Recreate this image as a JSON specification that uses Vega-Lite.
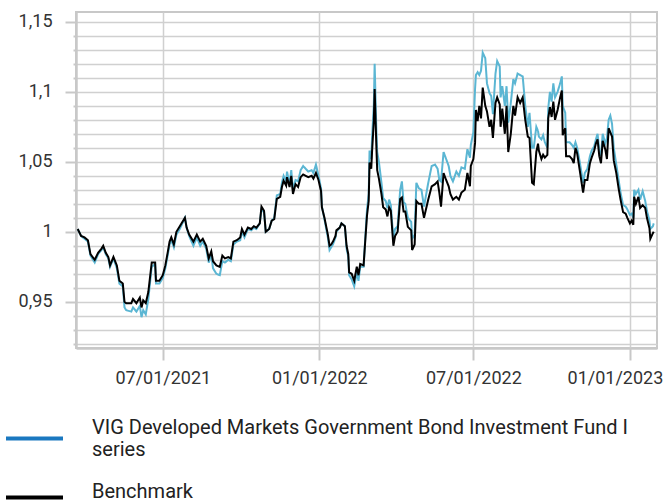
{
  "$schema": "https://vega.github.io/schema/vega-lite/v6.json",
  "width": 581,
  "height": 336,
  "autosize": {"type": "none"},
  "padding": {"left": 76, "top": 12, "right": 7, "bottom": 152},
  "background": "white",
  "config": {
    "font": "Roboto",
    "view": {"stroke": "#c8c8c8", "strokeWidth": 2}
  },
  "data": {
    "values": [
      {"date": "2021-03-23", "bench": 1.002, "fund": 1.002},
      {"date": "2021-03-27", "bench": 0.997, "fund": 0.997},
      {"date": "2021-03-31", "bench": 0.996, "fund": 0.995},
      {"date": "2021-04-04", "bench": 0.994, "fund": 0.993},
      {"date": "2021-04-07", "bench": 0.984, "fund": 0.983},
      {"date": "2021-04-12", "bench": 0.980, "fund": 0.978},
      {"date": "2021-04-16", "bench": 0.985, "fund": 0.984},
      {"date": "2021-04-20", "bench": 0.988, "fund": 0.987},
      {"date": "2021-04-22", "bench": 0.990, "fund": 0.989},
      {"date": "2021-04-25", "bench": 0.985, "fund": 0.984},
      {"date": "2021-04-28", "bench": 0.982, "fund": 0.981},
      {"date": "2021-04-30", "bench": 0.976, "fund": 0.975},
      {"date": "2021-05-04", "bench": 0.982, "fund": 0.981},
      {"date": "2021-05-08", "bench": 0.976, "fund": 0.974},
      {"date": "2021-05-11", "bench": 0.965, "fund": 0.963},
      {"date": "2021-05-15", "bench": 0.963, "fund": 0.961},
      {"date": "2021-05-17", "bench": 0.950, "fund": 0.946},
      {"date": "2021-05-19", "bench": 0.949, "fund": 0.944},
      {"date": "2021-05-25", "bench": 0.949, "fund": 0.943},
      {"date": "2021-05-27", "bench": 0.952, "fund": 0.946},
      {"date": "2021-05-31", "bench": 0.949, "fund": 0.943},
      {"date": "2021-06-04", "bench": 0.953, "fund": 0.947},
      {"date": "2021-06-06", "bench": 0.946, "fund": 0.939},
      {"date": "2021-06-08", "bench": 0.951, "fund": 0.944},
      {"date": "2021-06-11", "bench": 0.949, "fund": 0.941},
      {"date": "2021-06-14", "bench": 0.957, "fund": 0.952},
      {"date": "2021-06-18", "bench": 0.978, "fund": 0.975},
      {"date": "2021-06-22", "bench": 0.978, "fund": 0.977},
      {"date": "2021-06-23", "bench": 0.965, "fund": 0.963},
      {"date": "2021-06-27", "bench": 0.965, "fund": 0.963},
      {"date": "2021-07-01", "bench": 0.969, "fund": 0.967},
      {"date": "2021-07-04", "bench": 0.976, "fund": 0.974},
      {"date": "2021-07-07", "bench": 0.986, "fund": 0.984},
      {"date": "2021-07-09", "bench": 0.993, "fund": 0.991},
      {"date": "2021-07-11", "bench": 0.996, "fund": 0.994},
      {"date": "2021-07-14", "bench": 0.991, "fund": 0.989},
      {"date": "2021-07-17", "bench": 1.000, "fund": 0.998},
      {"date": "2021-07-21", "bench": 1.004, "fund": 1.002},
      {"date": "2021-07-24", "bench": 1.007, "fund": 1.006},
      {"date": "2021-07-27", "bench": 1.010, "fund": 1.010},
      {"date": "2021-07-29", "bench": 1.003, "fund": 1.003},
      {"date": "2021-08-01", "bench": 0.998, "fund": 0.997},
      {"date": "2021-08-06", "bench": 0.993, "fund": 0.990},
      {"date": "2021-08-10", "bench": 0.998, "fund": 0.996},
      {"date": "2021-08-14", "bench": 0.993, "fund": 0.990},
      {"date": "2021-08-17", "bench": 0.995, "fund": 0.993},
      {"date": "2021-08-21", "bench": 0.990, "fund": 0.988},
      {"date": "2021-08-24", "bench": 0.981, "fund": 0.978},
      {"date": "2021-08-27", "bench": 0.986, "fund": 0.984},
      {"date": "2021-08-29", "bench": 0.979, "fund": 0.974},
      {"date": "2021-09-02", "bench": 0.976, "fund": 0.970},
      {"date": "2021-09-06", "bench": 0.975, "fund": 0.969},
      {"date": "2021-09-09", "bench": 0.983, "fund": 0.979},
      {"date": "2021-09-12", "bench": 0.981, "fund": 0.978},
      {"date": "2021-09-16", "bench": 0.982, "fund": 0.980},
      {"date": "2021-09-19", "bench": 0.981, "fund": 0.979},
      {"date": "2021-09-22", "bench": 0.993, "fund": 0.991},
      {"date": "2021-09-26", "bench": 0.994, "fund": 0.993},
      {"date": "2021-09-30", "bench": 0.996, "fund": 0.994},
      {"date": "2021-10-02", "bench": 1.002, "fund": 1.000},
      {"date": "2021-10-05", "bench": 0.998, "fund": 0.996},
      {"date": "2021-10-09", "bench": 1.003, "fund": 1.002},
      {"date": "2021-10-13", "bench": 1.002, "fund": 1.001},
      {"date": "2021-10-16", "bench": 1.004, "fund": 1.003},
      {"date": "2021-10-19", "bench": 1.003, "fund": 1.002},
      {"date": "2021-10-23", "bench": 1.006, "fund": 1.006},
      {"date": "2021-10-25", "bench": 1.018, "fund": 1.016},
      {"date": "2021-10-28", "bench": 1.015, "fund": 1.014},
      {"date": "2021-10-30", "bench": 1.000, "fund": 1.000},
      {"date": "2021-11-03", "bench": 1.002, "fund": 1.002},
      {"date": "2021-11-06", "bench": 1.008, "fund": 1.008},
      {"date": "2021-11-09", "bench": 1.009, "fund": 1.010},
      {"date": "2021-11-12", "bench": 1.0235, "fund": 1.026},
      {"date": "2021-11-16", "bench": 1.025, "fund": 1.027},
      {"date": "2021-11-18", "bench": 1.032, "fund": 1.035},
      {"date": "2021-11-20", "bench": 1.0365, "fund": 1.040},
      {"date": "2021-11-23", "bench": 1.033, "fund": 1.036},
      {"date": "2021-11-24", "bench": 1.039, "fund": 1.043},
      {"date": "2021-11-27", "bench": 1.032, "fund": 1.034},
      {"date": "2021-11-29", "bench": 1.040, "fund": 1.044},
      {"date": "2021-12-01", "bench": 1.027, "fund": 1.030},
      {"date": "2021-12-04", "bench": 1.034, "fund": 1.037},
      {"date": "2021-12-07", "bench": 1.032, "fund": 1.036},
      {"date": "2021-12-10", "bench": 1.039, "fund": 1.044},
      {"date": "2021-12-13", "bench": 1.041, "fund": 1.047},
      {"date": "2021-12-16", "bench": 1.040, "fund": 1.045},
      {"date": "2021-12-19", "bench": 1.039, "fund": 1.043},
      {"date": "2021-12-23", "bench": 1.040, "fund": 1.044},
      {"date": "2021-12-25", "bench": 1.038, "fund": 1.042},
      {"date": "2021-12-28", "bench": 1.042, "fund": 1.048},
      {"date": "2021-12-31", "bench": 1.037, "fund": 1.040},
      {"date": "2022-01-03", "bench": 1.029, "fund": 1.031},
      {"date": "2022-01-04", "bench": 1.0175, "fund": 1.018},
      {"date": "2022-01-07", "bench": 1.010, "fund": 1.009},
      {"date": "2022-01-10", "bench": 1.001, "fund": 0.999},
      {"date": "2022-01-11", "bench": 0.998, "fund": 0.996},
      {"date": "2022-01-13", "bench": 0.990, "fund": 0.987},
      {"date": "2022-01-15", "bench": 0.991, "fund": 0.989},
      {"date": "2022-01-17", "bench": 0.993, "fund": 0.991},
      {"date": "2022-01-20", "bench": 0.997, "fund": 0.996},
      {"date": "2022-01-21", "bench": 1.001, "fund": 1.000},
      {"date": "2022-01-25", "bench": 1.003, "fund": 1.003},
      {"date": "2022-01-27", "bench": 1.006, "fund": 1.006},
      {"date": "2022-01-31", "bench": 1.004, "fund": 1.004},
      {"date": "2022-02-02", "bench": 0.990, "fund": 0.988},
      {"date": "2022-02-04", "bench": 0.984, "fund": 0.982},
      {"date": "2022-02-05", "bench": 0.971, "fund": 0.969},
      {"date": "2022-02-08", "bench": 0.970, "fund": 0.966},
      {"date": "2022-02-11", "bench": 0.965, "fund": 0.961},
      {"date": "2022-02-14", "bench": 0.975, "fund": 0.971},
      {"date": "2022-02-16", "bench": 0.969, "fund": 0.965},
      {"date": "2022-02-18", "bench": 0.977, "fund": 0.975},
      {"date": "2022-02-22", "bench": 0.976, "fund": 0.975},
      {"date": "2022-02-24", "bench": 0.994, "fund": 0.996},
      {"date": "2022-02-26", "bench": 1.0115, "fund": 1.016},
      {"date": "2022-02-28", "bench": 1.022, "fund": 1.027},
      {"date": "2022-03-01", "bench": 1.0495, "fund": 1.058},
      {"date": "2022-03-03", "bench": 1.045, "fund": 1.052},
      {"date": "2022-03-04", "bench": 1.058, "fund": 1.068},
      {"date": "2022-03-06", "bench": 1.079, "fund": 1.090},
      {"date": "2022-03-07", "bench": 1.102, "fund": 1.120},
      {"date": "2022-03-09", "bench": 1.061, "fund": 1.073},
      {"date": "2022-03-10", "bench": 1.044, "fund": 1.057},
      {"date": "2022-03-12", "bench": 1.038, "fund": 1.050},
      {"date": "2022-03-15", "bench": 1.027, "fund": 1.035},
      {"date": "2022-03-17", "bench": 1.0175, "fund": 1.024},
      {"date": "2022-03-20", "bench": 1.016, "fund": 1.022},
      {"date": "2022-03-22", "bench": 1.011, "fund": 1.017},
      {"date": "2022-03-24", "bench": 1.0175, "fund": 1.023},
      {"date": "2022-03-26", "bench": 1.015, "fund": 1.019},
      {"date": "2022-03-29", "bench": 0.990, "fund": 0.995},
      {"date": "2022-03-31", "bench": 0.997, "fund": 1.002},
      {"date": "2022-04-03", "bench": 1.000, "fund": 1.004},
      {"date": "2022-04-06", "bench": 1.0235, "fund": 1.030},
      {"date": "2022-04-08", "bench": 1.0245, "fund": 1.036},
      {"date": "2022-04-10", "bench": 1.0145, "fund": 1.021},
      {"date": "2022-04-12", "bench": 1.0145, "fund": 1.020},
      {"date": "2022-04-15", "bench": 1.0035, "fund": 1.010},
      {"date": "2022-04-19", "bench": 1.001, "fund": 1.007},
      {"date": "2022-04-20", "bench": 0.987, "fund": 0.995},
      {"date": "2022-04-23", "bench": 0.991, "fund": 0.998},
      {"date": "2022-04-25", "bench": 1.022, "fund": 1.035},
      {"date": "2022-04-28", "bench": 1.020, "fund": 1.031},
      {"date": "2022-05-01", "bench": 1.020, "fund": 1.030},
      {"date": "2022-05-04", "bench": 1.010, "fund": 1.018},
      {"date": "2022-05-09", "bench": 1.023, "fund": 1.035},
      {"date": "2022-05-13", "bench": 1.0325, "fund": 1.047},
      {"date": "2022-05-17", "bench": 1.034, "fund": 1.048},
      {"date": "2022-05-20", "bench": 1.036, "fund": 1.045},
      {"date": "2022-05-22", "bench": 1.028, "fund": 1.037},
      {"date": "2022-05-24", "bench": 1.018, "fund": 1.036},
      {"date": "2022-05-27", "bench": 1.042, "fund": 1.057},
      {"date": "2022-05-30", "bench": 1.037, "fund": 1.052},
      {"date": "2022-06-02", "bench": 1.0325, "fund": 1.047},
      {"date": "2022-06-04", "bench": 1.027, "fund": 1.040},
      {"date": "2022-06-07", "bench": 1.023, "fund": 1.036},
      {"date": "2022-06-11", "bench": 1.025, "fund": 1.043},
      {"date": "2022-06-14", "bench": 1.023, "fund": 1.040},
      {"date": "2022-06-17", "bench": 1.028, "fund": 1.046},
      {"date": "2022-06-21", "bench": 1.030, "fund": 1.045},
      {"date": "2022-06-24", "bench": 1.042, "fund": 1.059},
      {"date": "2022-06-27", "bench": 1.0325, "fund": 1.053},
      {"date": "2022-06-28", "bench": 1.047, "fund": 1.062},
      {"date": "2022-07-01", "bench": 1.052, "fund": 1.071},
      {"date": "2022-07-03", "bench": 1.0635, "fund": 1.102},
      {"date": "2022-07-04", "bench": 1.087, "fund": 1.112},
      {"date": "2022-07-06", "bench": 1.079, "fund": 1.114},
      {"date": "2022-07-08", "bench": 1.090, "fund": 1.112},
      {"date": "2022-07-10", "bench": 1.081, "fund": 1.115},
      {"date": "2022-07-12", "bench": 1.103, "fund": 1.128},
      {"date": "2022-07-15", "bench": 1.090, "fund": 1.124},
      {"date": "2022-07-17", "bench": 1.086, "fund": 1.106},
      {"date": "2022-07-20", "bench": 1.075, "fund": 1.099},
      {"date": "2022-07-22", "bench": 1.080, "fund": 1.097},
      {"date": "2022-07-24", "bench": 1.067, "fund": 1.084},
      {"date": "2022-07-27", "bench": 1.092, "fund": 1.113},
      {"date": "2022-07-29", "bench": 1.096, "fund": 1.122},
      {"date": "2022-08-01", "bench": 1.091, "fund": 1.118},
      {"date": "2022-08-02", "bench": 1.075, "fund": 1.096},
      {"date": "2022-08-04", "bench": 1.088, "fund": 1.104},
      {"date": "2022-08-07", "bench": 1.070, "fund": 1.090},
      {"date": "2022-08-09", "bench": 1.090, "fund": 1.104},
      {"date": "2022-08-11", "bench": 1.057, "fund": 1.078},
      {"date": "2022-08-14", "bench": 1.070, "fund": 1.092},
      {"date": "2022-08-17", "bench": 1.090, "fund": 1.109},
      {"date": "2022-08-19", "bench": 1.083, "fund": 1.106},
      {"date": "2022-08-22", "bench": 1.096, "fund": 1.113},
      {"date": "2022-08-25", "bench": 1.092, "fund": 1.112},
      {"date": "2022-08-28", "bench": 1.096, "fund": 1.111},
      {"date": "2022-08-31", "bench": 1.080, "fund": 1.090},
      {"date": "2022-09-03", "bench": 1.068, "fund": 1.075},
      {"date": "2022-09-05", "bench": 1.067, "fund": 1.085},
      {"date": "2022-09-08", "bench": 1.035, "fund": 1.060},
      {"date": "2022-09-10", "bench": 1.034, "fund": 1.060},
      {"date": "2022-09-13", "bench": 1.057, "fund": 1.075},
      {"date": "2022-09-15", "bench": 1.063, "fund": 1.072},
      {"date": "2022-09-16", "bench": 1.058, "fund": 1.068},
      {"date": "2022-09-19", "bench": 1.052, "fund": 1.066},
      {"date": "2022-09-21", "bench": 1.055, "fund": 1.069},
      {"date": "2022-09-23", "bench": 1.053, "fund": 1.064},
      {"date": "2022-09-26", "bench": 1.055, "fund": 1.060},
      {"date": "2022-09-27", "bench": 1.081, "fund": 1.088},
      {"date": "2022-09-29", "bench": 1.089, "fund": 1.100},
      {"date": "2022-10-01", "bench": 1.082, "fund": 1.093},
      {"date": "2022-10-03", "bench": 1.093, "fund": 1.106},
      {"date": "2022-10-05", "bench": 1.080, "fund": 1.096},
      {"date": "2022-10-08", "bench": 1.087, "fund": 1.100},
      {"date": "2022-10-11", "bench": 1.096, "fund": 1.106},
      {"date": "2022-10-13", "bench": 1.101, "fund": 1.111},
      {"date": "2022-10-14", "bench": 1.069, "fund": 1.090},
      {"date": "2022-10-17", "bench": 1.074, "fund": 1.085},
      {"date": "2022-10-18", "bench": 1.054, "fund": 1.064},
      {"date": "2022-10-22", "bench": 1.054, "fund": 1.064},
      {"date": "2022-10-25", "bench": 1.052, "fund": 1.062},
      {"date": "2022-10-27", "bench": 1.049, "fund": 1.060},
      {"date": "2022-10-29", "bench": 1.060, "fund": 1.064},
      {"date": "2022-10-31", "bench": 1.056, "fund": 1.060},
      {"date": "2022-11-03", "bench": 1.044, "fund": 1.050},
      {"date": "2022-11-07", "bench": 1.028, "fund": 1.035},
      {"date": "2022-11-09", "bench": 1.037, "fund": 1.042},
      {"date": "2022-11-12", "bench": 1.037, "fund": 1.045},
      {"date": "2022-11-15", "bench": 1.049, "fund": 1.054},
      {"date": "2022-11-17", "bench": 1.053, "fund": 1.058},
      {"date": "2022-11-20", "bench": 1.058, "fund": 1.061},
      {"date": "2022-11-22", "bench": 1.063, "fund": 1.066},
      {"date": "2022-11-24", "bench": 1.066, "fund": 1.070},
      {"date": "2022-11-26", "bench": 1.054, "fund": 1.058},
      {"date": "2022-11-28", "bench": 1.049, "fund": 1.054},
      {"date": "2022-11-30", "bench": 1.065, "fund": 1.070},
      {"date": "2022-12-03", "bench": 1.059, "fund": 1.063},
      {"date": "2022-12-05", "bench": 1.052, "fund": 1.067},
      {"date": "2022-12-07", "bench": 1.074, "fund": 1.080},
      {"date": "2022-12-09", "bench": 1.071, "fund": 1.083},
      {"date": "2022-12-11", "bench": 1.068, "fund": 1.077},
      {"date": "2022-12-13", "bench": 1.051, "fund": 1.060},
      {"date": "2022-12-16", "bench": 1.042, "fund": 1.048},
      {"date": "2022-12-19", "bench": 1.030, "fund": 1.036},
      {"date": "2022-12-21", "bench": 1.023, "fund": 1.028},
      {"date": "2022-12-24", "bench": 1.014, "fund": 1.019},
      {"date": "2022-12-27", "bench": 1.013, "fund": 1.018},
      {"date": "2022-12-29", "bench": 1.010, "fund": 1.016},
      {"date": "2023-01-01", "bench": 1.006, "fund": 1.012},
      {"date": "2023-01-03", "bench": 1.008, "fund": 1.013},
      {"date": "2023-01-05", "bench": 1.005, "fund": 1.010},
      {"date": "2023-01-06", "bench": 1.025, "fund": 1.030},
      {"date": "2023-01-08", "bench": 1.020, "fund": 1.027},
      {"date": "2023-01-11", "bench": 1.025, "fund": 1.030},
      {"date": "2023-01-13", "bench": 1.017, "fund": 1.023},
      {"date": "2023-01-16", "bench": 1.019, "fund": 1.029},
      {"date": "2023-01-19", "bench": 1.017, "fund": 1.022},
      {"date": "2023-01-21", "bench": 1.010, "fund": 1.015},
      {"date": "2023-01-24", "bench": 1.0025, "fund": 1.008},
      {"date": "2023-01-25", "bench": 0.995, "fund": 1.002},
      {"date": "2023-01-28", "bench": 0.999, "fund": 1.004},
      {"date": "2023-01-29", "bench": 1.000, "fund": 1.006}
    ]
  },
  "layer": [
    {
      "mark": {"type": "line", "strokeWidth": 2, "color": "#5bb6d3"},
      "encoding": {
        "x": {
          "field": "date",
          "type": "temporal",
          "scale": {
            "type": "utc",
            "domain": [
              {"year": 2021, "month": 3, "date": 21, "utc": true},
              {"year": 2023, "month": 2, "date": 1, "hours": 20, "utc": true}
            ]
          },
          "axis": {
            "title": null,
            "values": [
              {"year": 2021, "month": 7, "date": 1, "utc": true},
              {"year": 2022, "month": 1, "date": 1, "utc": true},
              {"year": 2022, "month": 7, "date": 1, "utc": true},
              {"year": 2023, "month": 1, "date": 1, "utc": true}
            ],
            "tickCount": 20,
            "format": "%m/%d/%Y",
            "grid": true,
            "gridColor": "#d0d0d0",
            "gridWidth": 1.5,
            "domainColor": "#c8c8c8",
            "domainWidth": 2.5,
            "tickColor": "#c8c8c8",
            "tickWidth": 2,
            "tickSize": 12,
            "labelPadding": 9,
            "labelOffset": {"condition": {"test": "utcyear(datum.value) == 2023", "value": -15}, "value": 0},
            "labelFont": "Roboto",
            "labelFontSize": 18,
            "labelColor": "#333333",
            "labelOverlap": false,
            "labelBound": false
          }
        },
        "y": {
          "field": "fund",
          "type": "quantitative",
          "scale": {"domain": [0.917, 1.157], "nice": false, "zero": false},
          "axis": {
            "title": null,
            "values": [0.92, 0.93, 0.94, 0.95, 0.96, 0.97, 0.98, 0.99, 1.0, 1.01, 1.02, 1.03, 1.04, 1.05, 1.06, 1.07, 1.08, 1.09, 1.1, 1.11, 1.12, 1.13, 1.14, 1.15],
            "tickCount": 60,
            "grid": true,
            "gridColor": "#d0d0d0",
            "gridWidth": 1.5,
            "domainColor": "#c8c8c8",
            "domainWidth": 2.5,
            "tickColor": "#c8c8c8",
            "tickWidth": 2,
            "tickSize": {"condition": {"test": "abs(datum.value*20 - round(datum.value*20)) < 0.001", "value": 11}, "value": 3},
            "labelExpr": "abs(datum.value*20 - round(datum.value*20)) < 0.001 ? replace(format(datum.value, '.2~f'), '.', ',') : ''",
            "labelPadding": 13,
            "labelFont": "Roboto",
            "labelFontSize": 18,
            "labelColor": "#333333",
            "labelOverlap": false
          }
        },
        "strokeDash": {
          "datum": "VIG Developed Markets Government Bond Investment Fund I series",
          "type": "nominal",
          "scale": {
            "domain": ["VIG Developed Markets Government Bond Investment Fund I series"],
            "range": [[1, 0]]
          },
          "legend": {
            "orient": "none",
            "legendX": -72,
            "legendY": 396,
            "direction": "vertical",
            "title": null,
            "padding": 0,
            "symbolType": "stroke",
            "symbolSize": 3249,
            "symbolStrokeWidth": 4,
            "symbolStrokeColor": "#1a78c0",
            "labelFont": "Roboto",
            "labelFontSize": 20,
            "labelColor": "#222222",
            "labelOffset": 27,
            "labelLimit": 700,
            "labelBaseline": "line-bottom",
            "labelExpr": "['VIG Developed Markets Government Bond Investment Fund I', 'series']"
          }
        }
      }
    },
    {
      "mark": {"type": "line", "strokeWidth": 2},
      "encoding": {
        "x": {"field": "date", "type": "temporal"},
        "y": {"field": "bench", "type": "quantitative"},
        "stroke": {
          "datum": "Benchmark",
          "type": "nominal",
          "scale": {"domain": ["Benchmark"], "range": ["#000000"]},
          "legend": {
            "orient": "none",
            "legendX": -72,
            "legendY": 455,
            "direction": "vertical",
            "title": null,
            "padding": 0,
            "symbolType": "stroke",
            "symbolSize": 3249,
            "symbolStrokeWidth": 4,
            "symbolStrokeColor": "#000000",
            "labelFont": "Roboto",
            "labelFontSize": 20,
            "labelColor": "#222222",
            "labelOffset": 27,
            "labelLimit": 700,
            "labelBaseline": "alphabetic"
          }
        }
      }
    }
  ]
}
